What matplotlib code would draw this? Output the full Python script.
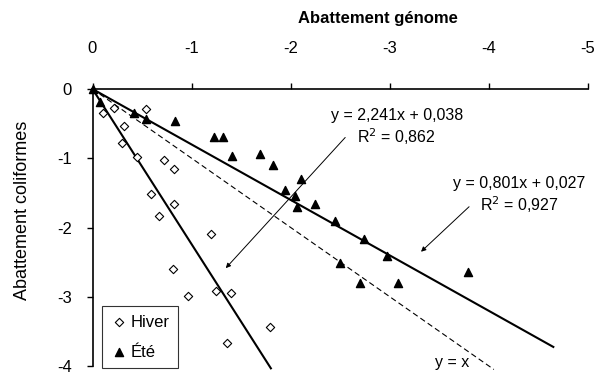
import numpy as np
import matplotlib
matplotlib.use('Agg')
import matplotlib.pyplot as plt

plt.rcParams['font.family'] = ['Liberation Sans', 'DejaVu Sans']

# Hiver (open diamonds)
hiver_x = [-0.11, -0.22, -0.32, -0.30, -0.45, -0.54, -0.72, -0.82, -0.59, -0.82,
           -0.67, -1.20, -0.81, -0.96, -1.25, -1.40, -1.79, -1.36]
hiver_y = [-0.34, -0.28, -0.53, -0.78, -0.98, -0.29, -1.03, -1.15, -1.52, -1.66,
           -1.84, -2.10, -2.60, -2.99, -2.92, -2.95, -3.44, -3.67]

# Été (filled triangles)
ete_x = [0.0, -0.08, -0.42, -0.54, -0.83, -1.23, -1.32, -1.41, -1.69, -1.82,
         -1.94, -2.04, -2.10, -2.06, -2.25, -2.45, -2.74, -2.97, -2.50, -2.70,
         -3.08, -3.79]
ete_y = [0.0, -0.19, -0.34, -0.44, -0.46, -0.70, -0.70, -0.97, -0.94, -1.10,
         -1.46, -1.54, -1.30, -1.71, -1.66, -1.91, -2.17, -2.41, -2.51, -2.80,
         -2.80, -2.64]

# regression lines
hiver_slope, hiver_icpt = 2.241, 0.038
ete_slope, ete_icpt = 0.801, 0.027
hiver_xend = -1.80
ete_xend = -4.65
diag_xend = -4.05

fig = plt.figure(figsize=(5.98, 3.73), dpi=100)
ax = fig.add_axes([92.5 / 598, 1 - 366 / 373, 495.5 / 598, 277 / 373])

ax.set_xlim(0, -5)
ax.set_ylim(-4, 0)

xs = np.array([0, hiver_xend])
ax.plot(xs, hiver_slope * xs, color='black', lw=1.5, clip_on=False)
xs = np.array([0, ete_xend])
ax.plot(xs, ete_slope * xs, color='black', lw=1.5, clip_on=False)
xs = np.array([0, diag_xend])
ax.plot(xs, xs, color='black', lw=0.8, ls=(0, (5, 3)), clip_on=False)

ax.scatter(hiver_x, hiver_y, marker='D', s=18, facecolors='white',
           edgecolors='black', linewidths=0.8, label='Hiver', zorder=3, clip_on=False)
ax.scatter(ete_x, ete_y, marker='^', s=34, color='black',
           label='Été', zorder=4, clip_on=False)

# equations + arrows
arrow = dict(arrowstyle='-|>', color='black', lw=0.7, mutation_scale=7, shrinkA=0, shrinkB=0)
ax.text(-3.07, -0.556, 'y = 2,241x + 0,038\nR$^2$ = 0,862', ha='center', va='center',
        fontsize=11.5, linespacing=1.15)
ax.annotate('', xy=(-1.345, -2.587), xytext=(-2.55, -0.70), arrowprops=arrow)
ax.text(-4.31, -1.537, 'y = 0,801x + 0,027\nR$^2$ = 0,927', ha='center', va='center',
        fontsize=11.5, linespacing=1.15)
ax.annotate('', xy=(-3.315, -2.35), xytext=(-3.80, -1.70), arrowprops=arrow)
ax.text(-3.63, -3.95, 'y = x', ha='center', va='center', fontsize=11.5)

ax.spines['right'].set_visible(False)
ax.spines['bottom'].set_visible(False)
ax.spines['top'].set_linewidth(1.2)
ax.spines['left'].set_linewidth(1.2)
ax.xaxis.tick_top()
ax.set_xticks([0, -1, -2, -3, -4, -5])
ax.set_xticklabels(['0', '-1', '-2', '-3', '-4', '-5'])
ax.set_yticks([0, -1, -2, -3, -4])
ax.set_yticklabels(['0', '-1', '-2', '-3', '-4'])
ax.tick_params(axis='x', direction='out', length=4, width=1, pad=20, labelsize=12)
ax.tick_params(axis='y', direction='out', length=4, width=1, pad=11, labelsize=12)

fig.text(378 / 598, 1 - 18 / 373, 'Abattement génome', ha='center', va='center',
         fontsize=12, fontweight='bold')
fig.text(23 / 598, 1 - 210 / 373, 'Abattement coliformes', ha='center', va='center',
         rotation=90, fontsize=13)

leg = ax.legend(loc='lower left', bbox_to_anchor=(0.019, -0.007), borderaxespad=0,
                frameon=True, fancybox=False, edgecolor='black', fontsize=12,
                handletextpad=0.1, handlelength=1.1, borderpad=0.5, labelspacing=0.9)
leg.get_frame().set_linewidth(0.8)

fig.savefig('out.png', dpi=100)
